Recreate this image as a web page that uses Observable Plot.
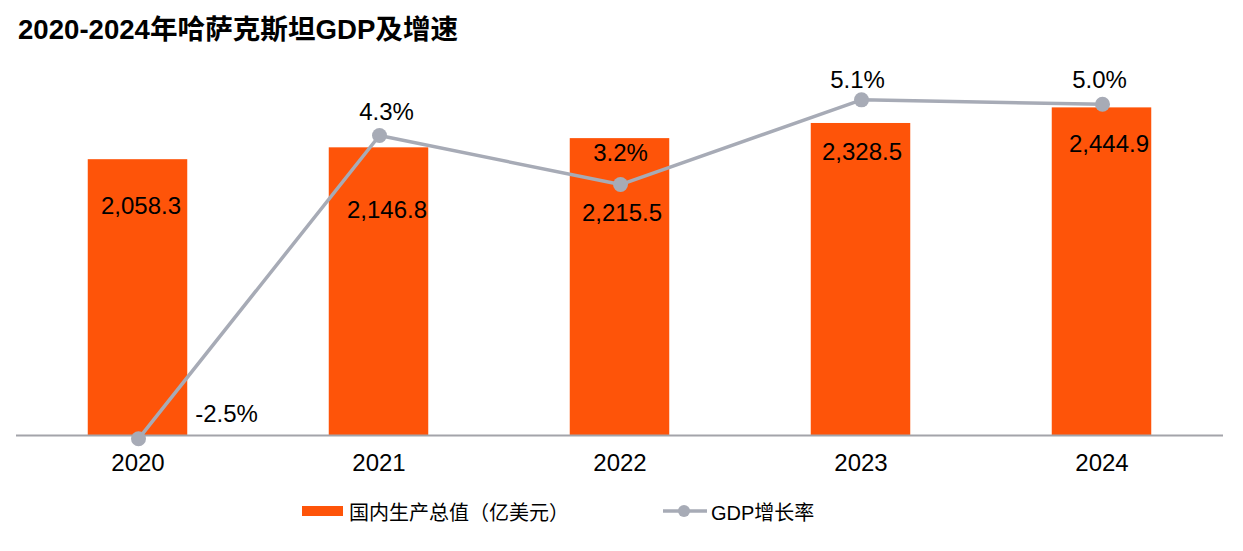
<!DOCTYPE html>
<html>
<head>
<meta charset="utf-8">
<script src="https://cdn.jsdelivr.net/npm/d3@7"></script>
<script src="https://cdn.jsdelivr.net/npm/@observablehq/plot@0.6"></script>
<style>
  html, body { margin: 0; padding: 0; background: #fff; }
  #chart { position: relative; width: 1243px; height: 551px; overflow: hidden;
    font-family: "Liberation Sans", Arial, "Noto Sans CJK SC", sans-serif; color: #000; }
  #title { position: absolute; left: 18px; top: 13px; font-size: 27.6px; font-weight: bold; line-height: 34px; white-space: nowrap; }
  .layer { position: absolute; left: 0; top: 0; }
  .legend { position: absolute; top: 499px; height: 24px; display: flex; align-items: center; font-size: 20px; white-space: nowrap; }
</style>
</head>
<body>
<div id="chart">
  <div id="title">2020-2024年哈萨克斯坦GDP及增速</div>
</div>
<script>
// Kazakhstan GDP (100 million USD) and real growth rate, 2020–2024
const years = ["2020", "2021", "2022", "2023", "2024"];
const gdp = [2058.3, 2146.8, 2215.5, 2328.5, 2444.9];
const growth = [-2.5, 4.3, 3.2, 5.1, 5.0];
const seriesNames = ["国内生产总值（亿美元）", "GDP增长率"];

const rows = years.map((year, i) => ({year, gdp: gdp[i], growth: growth[i]}));

// Hand-placed label nudges (px) so values stay clear of the growth line
const gdpLabelNudge = [[3, 47], [8, 62], [2, 75], [1, 29], [7, 36]];
const growthLabelNudge = [[88, -24], [7, -23], [0, -31], [-4, -20], [-3, -24]];

const W = 1243, H = 480;
const font = "'Liberation Sans', Arial, 'Noto Sans CJK SC', sans-serif";
const orange = "#FE5409";
const gray = "#A7ABB6";
const frame = {width: W, height: H, marginLeft: 16, marginRight: 20, marginTop: 33, marginBottom: 45};
const style = {fontFamily: font, fontSize: "24px", color: "#000", background: "transparent", overflow: "visible"};

const fmtGdp = d3.format(",.1f");
const chart = document.getElementById("chart");

// Layer 1: GDP bars on the left value scale
const bars = Plot.plot({
  ...frame,
  style,
  x: {type: "band", domain: years, padding: 0, label: null},
  y: {domain: [0, 3000], axis: null},
  marks: [
    Plot.barY(rows, {x: "year", y: "gdp", fill: orange, insetLeft: 70.75, insetRight: 70.75}),
    Plot.ruleY([0], {stroke: "#A3A4AA", strokeWidth: 2}),
    Plot.axisX({tickSize: 0, tickPadding: 18, fontSize: 24, fill: "#000", label: null}),
    ...rows.map((r, i) => Plot.text([r], {
      x: "year", y: "gdp", text: d => fmtGdp(d.gdp),
      dx: gdpLabelNudge[i][0], dy: gdpLabelNudge[i][1], fontSize: 24, fill: "#000"
    }))
  ]
});
bars.classList.add("layer");
chart.appendChild(bars);

// Layer 2: growth rate line on its own (right) value scale
const line = Plot.plot({
  ...frame,
  style,
  x: {type: "point", domain: years, padding: 0.5, axis: null},
  y: {domain: [-2.426, 6.587], axis: null},
  marks: [
    Plot.line(rows, {x: "year", y: "growth", stroke: gray, strokeWidth: 3.5}),
    Plot.dot(rows, {x: "year", y: "growth", r: 7.5, fill: gray}),
    ...rows.map((r, i) => Plot.text([r], {
      x: "year", y: "growth", text: d => d.growth.toFixed(1) + "%",
      dx: growthLabelNudge[i][0], dy: growthLabelNudge[i][1], fontSize: 24, fill: "#000"
    }))
  ]
});
line.classList.add("layer");
chart.appendChild(line);

// Legend
const legBar = document.createElement("div");
legBar.className = "legend";
legBar.style.left = "302px";
legBar.innerHTML = `<span style="display:inline-block;width:41px;height:10px;background:${orange};margin-right:6px"></span><span>${seriesNames[0]}</span>`;
chart.appendChild(legBar);

const legLine = document.createElement("div");
legLine.className = "legend";
legLine.style.left = "663px";
legLine.innerHTML = `<svg width="46" height="16" style="margin-right:2px"><line x1="0" x2="44" y1="8" y2="8" stroke="${gray}" stroke-width="3.5"/><circle cx="21" cy="8" r="6" fill="${gray}"/></svg><span>${seriesNames[1]}</span>`;
chart.appendChild(legLine);
</script>
</body>
</html>
